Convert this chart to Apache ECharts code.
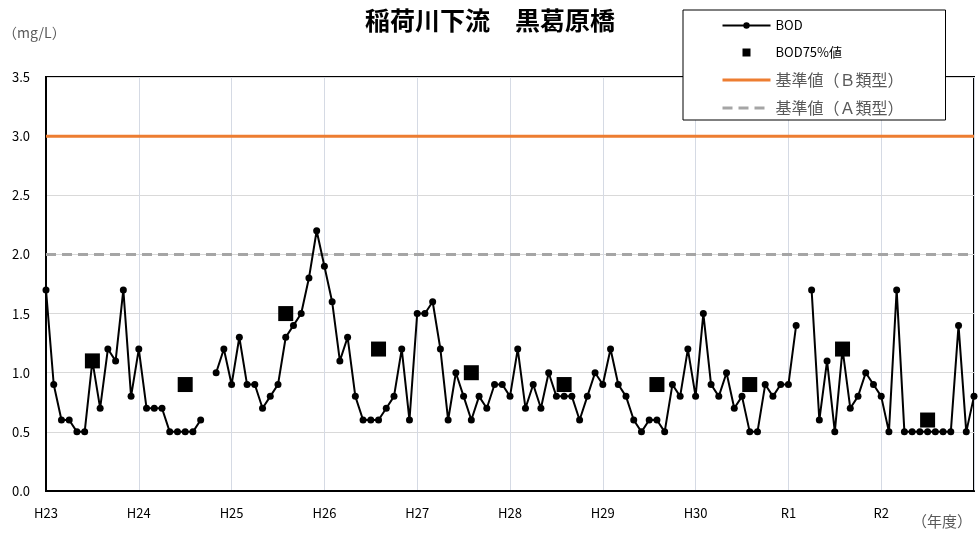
<!DOCTYPE html>
<html><head><meta charset="utf-8">
<script src="https://cdn.jsdelivr.net/npm/echarts@6/dist/echarts.min.js"></script>
<style>html,body{margin:0;padding:0;background:#fff}#c{width:980px;height:537px}</style>
</head><body><div id="c"></div>
<script>
const titleText = '稲荷川下流　黒葛原橋';
const yearLabels = ['H23','H24','H25','H26','H27','H28','H29','H30','R1','R2'];
const monthLabels = ['4','5','6','7','8','9','10','11','12','1','2','3'];
const bod = [
  1.7,0.9,0.6,0.6,0.5,0.5,1.1,0.7,1.2,1.1,1.7,0.8,
  1.2,0.7,0.7,0.7,0.5,0.5,0.5,0.5,0.6,null,1.0,1.2,
  0.9,1.3,0.9,0.9,0.7,0.8,0.9,1.3,1.4,1.5,1.8,2.2,
  1.9,1.6,1.1,1.3,0.8,0.6,0.6,0.6,0.7,0.8,1.2,0.6,
  1.5,1.5,1.6,1.2,0.6,1.0,0.8,0.6,0.8,0.7,0.9,0.9,
  0.8,1.2,0.7,0.9,0.7,1.0,0.8,0.8,0.8,0.6,0.8,1.0,
  0.9,1.2,0.9,0.8,0.6,0.5,0.6,0.6,0.5,0.9,0.8,1.2,
  0.8,1.5,0.9,0.8,1.0,0.7,0.8,0.5,0.5,0.9,0.8,0.9,
  0.9,1.4,null,1.7,0.6,1.1,0.5,1.2,0.7,0.8,1.0,0.9,
  0.8,0.5,1.7,0.5,0.5,0.5,0.5,0.5,0.5,0.5,1.4,0.5,
  0.8
];
const bod75Index = [6,18,31,43,55,67,79,91,103,114];
const bod75Values = [1.1,0.9,1.5,1.2,1.0,0.9,0.9,0.9,1.2,0.6];
const standardB = 3.0;
const standardA = 2.0;
const yMin = 0, yMax = 3.5, yInterval = 0.5;

const categories = [];
yearLabels.forEach(y => monthLabels.forEach(m => categories.push(y + '/' + m)));
categories.push('R3/4');

const FONT = 'Noto Sans CJK JP';
const chart = echarts.init(document.getElementById('c'), null, {renderer: 'canvas'});
chart.setOption({
  backgroundColor: '#fff',
  animation: false,
  textStyle: {fontFamily: FONT},
  title: {
    text: titleText, left: 'center', top: 3,
    textStyle: {fontFamily: FONT, fontSize: 25, fontWeight: 'bold', color: '#000'}
  },
  legend: {
    orient: 'vertical', left: 683, top: 10,
    backgroundColor: '#fff', borderColor: '#000', borderWidth: 1,
    padding: [8, 42, 4, 38],
    itemWidth: 48, itemHeight: 8, itemGap: 12,
    textStyle: {fontFamily: FONT, fontSize: 13, lineHeight: 15, color: '#000'},
    data: [
      {name: 'BOD'},
      {name: 'BOD75%値', icon: 'path://M0,0M48,8M20,0h8v8h-8z'},
      {name: '基準値（Ｂ類型）', itemStyle: {opacity: 0}, lineStyle: {width: 3}, textStyle: {color: '#595959', fontSize: 16, lineHeight: 15}},
      {name: '基準値（Ａ類型）', itemStyle: {opacity: 0}, lineStyle: {width: 3}, textStyle: {color: '#595959', fontSize: 16, lineHeight: 15}}
    ]
  },
  grid: {left: 46, right: 6, top: 77, bottom: 46, show: true, borderColor: '#000', borderWidth: 2, backgroundColor: 'transparent'},
  xAxis: {
    type: 'category', data: categories, boundaryGap: false,
    axisLine: {lineStyle: {color: '#000', width: 2}},
    axisTick: {show: false},
    axisLabel: {
      interval: (i) => i % 12 === 0 && i < yearLabels.length * 12,
      formatter: (v) => v.split('/')[0],
      color: '#000', fontSize: 13, margin: 16, fontFamily: FONT
    },
    splitLine: {show: true, interval: (i) => i % 12 === 0, lineStyle: {color: '#d5dae4', width: 1}}
  },
  yAxis: {
    type: 'value', min: yMin, max: yMax, interval: yInterval,
    axisLine: {show: true, lineStyle: {color: '#000', width: 2}},
    axisTick: {show: false},
    axisLabel: {formatter: (v) => v.toFixed(1), color: '#000', fontSize: 13, margin: 16, fontFamily: FONT},
    splitLine: {lineStyle: {color: '#d9d9d9', width: 1}}
  },
  graphic: [
    {type: 'text', left: 3, top: 26, style: {text: '（mg/L）', fill: '#595959', font: '14px "Noto Sans CJK JP"'}},
    {type: 'text', left: 912, top: 514, style: {text: '（年度）', fill: '#595959', font: '15px "Noto Sans CJK JP"'}}
  ],
  series: [
    {
      name: '基準値（Ｂ類型）', type: 'line', data: categories.map(() => standardB),
      symbol: 'none', lineStyle: {color: '#ED7D31', width: 3}, itemStyle: {color: '#ED7D31'}, z: 2
    },
    {
      name: '基準値（Ａ類型）', type: 'line', data: categories.map(() => standardA),
      symbol: 'none', lineStyle: {color: '#A5A5A5', width: 3, type: [10, 6]}, itemStyle: {color: '#A5A5A5'}, z: 2
    },
    {
      name: 'BOD', type: 'line', data: bod, connectNulls: false,
      symbol: 'circle', symbolSize: 7, showAllSymbol: true,
      lineStyle: {color: '#000', width: 2}, itemStyle: {color: '#000'}, z: 3
    },
    {
      name: 'BOD75%値', type: 'scatter', data: bod75Index.map((i, k) => [i, bod75Values[k]]),
      symbol: 'rect', symbolSize: 15, itemStyle: {color: '#000', opacity: 1}, z: 4
    }
  ]
});
</script></body></html>
